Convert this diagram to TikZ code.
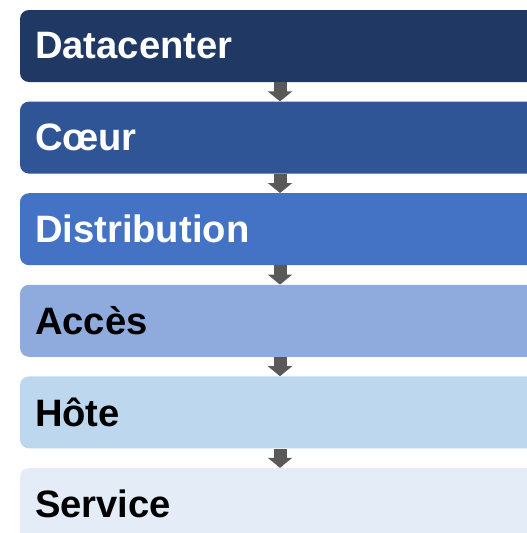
\documentclass[tikz,border=0pt]{standalone}
\usepackage{fontspec}
\setmainfont{Liberation Sans}
\usetikzlibrary{arrows.meta}
\definecolor{lvlA}{HTML}{1F3864}
\definecolor{lvlB}{HTML}{2F5597}
\definecolor{lvlC}{HTML}{4472C4}
\definecolor{lvlD}{HTML}{8FAADC}
\definecolor{lvlE}{HTML}{BDD7EE}
\definecolor{lvlF}{HTML}{E4ECF7}
\definecolor{flowgray}{HTML}{595959}
\begin{document}
\begin{tikzpicture}[x=1pt, y=1pt,
    layer/.style={rectangle, rounded corners=9pt, minimum width=520pt, minimum height=72pt,
        inner sep=0pt, text width=490pt, align=left,
        font=\fontsize{38.2}{42}\selectfont\bfseries},
    flow/.style={draw=flowgray, line width=13pt, -{Triangle[width=24pt, length=10pt]}}]
                \useasboundingbox (0,0) rectangle (527,-533);
                \foreach[count=\x] \t/\c/\f in {Datacenter/lvlA/white, Cœur/lvlB/white, Distribution/lvlC/white,
                    Accès/lvlD/black, Hôte/lvlE/black, Service/lvlF/black}
                {
                    \node[layer, fill=\c, text=\f] (l\x) at (280,-46-91.6*\x+91.6) {\t};
                }
                \foreach[count=\y from 2] \x in {1,...,5}
                {
                    \draw[flow] (l\x.south) -- (l\y.north);
                }
            \end{tikzpicture}
\end{document}
